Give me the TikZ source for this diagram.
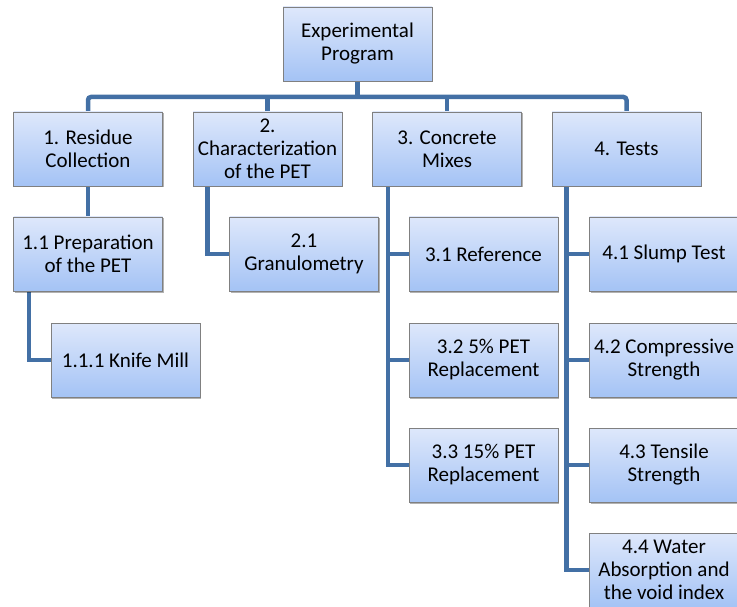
\documentclass[tikz,border=0pt]{standalone}
\usepackage{fontspec}
\setmainfont{Carlito}
\usetikzlibrary{shadows}
\pgfdeclarelayer{background}
\pgfsetlayers{background,main}
\definecolor{boxtop}{RGB}{222,232,251}
\definecolor{boxbot}{RGB}{164,195,245}
\definecolor{conncol}{RGB}{67,112,165}
\definecolor{boxline}{RGB}{128,128,128}
\tikzset{
  box/.style={draw=boxline, line width=0.8pt, top color=boxtop, bottom color=boxbot,
    minimum width=149pt, minimum height=74pt, inner sep=0pt, align=center,
    font=\fontsize{21}{23}\selectfont,
    drop shadow={shadow xshift=1.2pt, shadow yshift=-1.5pt, fill=black, opacity=0.3}},
  conn/.style={draw=conncol, line width=4.5pt}
}
\begin{document}
\begin{tikzpicture}[x=1pt,y=-1pt]
\useasboundingbox (0,0) rectangle (737,607);
\coordinate (bus) at (357.5,97);
\node[box] (top) at (357.5,44) {Experimental\\Program};
\node[box] (b1) at (88,149) {1. Residue\\Collection};
\node[box] (b2) at (267.5,149) {2.\\Characterization\\of the PET};
\node[box] (b3) at (447,149) {3. Concrete\\Mixes};
\node[box] (b4) at (626.5,149) {4. Tests};
\node[box] (b11) at (88,254) {1.1 Preparation\\of the PET};
\node[box] (b111) at (125.5,360) {1.1.1 Knife Mill};
\node[box] (b21) at (304,254) {2.1\\Granulometry};
\node[box] (b31) at (483.5,254) {3.1 Reference};
\node[box] (b32) at (483.5,360) {3.2 5\% PET\\Replacement};
\node[box] (b33) at (483.5,465) {3.3 15\% PET\\Replacement};
\node[box] (b41) at (664,254) {4.1 Slump Test};
\node[box] (b42) at (664,360) {4.2 Compressive\\Strength};
\node[box] (b43) at (664,465) {4.3 Tensile\\Strength};
\node[box] (b44) at (664,570) {4.4 Water\\Absorption and\\the void index};
\begin{pgfonlayer}{background}
\draw[conn] (top.south) -- (top.south |- bus);
\draw[conn, rounded corners=3pt] (b1.north) -- (b1.north |- bus) -- (b4.north |- bus) -- (b4.north);
\draw[conn] (b2.north) -- (b2.north |- bus);
\draw[conn] (b3.north) -- (b3.north |- bus);
\draw[conn] (b1.south) -- (b11.north);
\draw[conn] ([xshift=16pt]b11.south west) |- (b111.west);
\draw[conn] ([xshift=15pt]b2.south west) |- (b21.west);
\draw[conn] ([xshift=16pt]b3.south west) |- (b31.west);
\draw[conn] ([xshift=16pt]b3.south west) |- (b32.west);
\draw[conn] ([xshift=16pt]b3.south west) |- (b33.west);
\draw[conn] ([xshift=15pt]b4.south west) |- (b41.west);
\draw[conn] ([xshift=15pt]b4.south west) |- (b42.west);
\draw[conn] ([xshift=15pt]b4.south west) |- (b43.west);
\draw[conn] ([xshift=15pt]b4.south west) |- (b44.west);
\end{pgfonlayer}
\end{tikzpicture}
\end{document}
